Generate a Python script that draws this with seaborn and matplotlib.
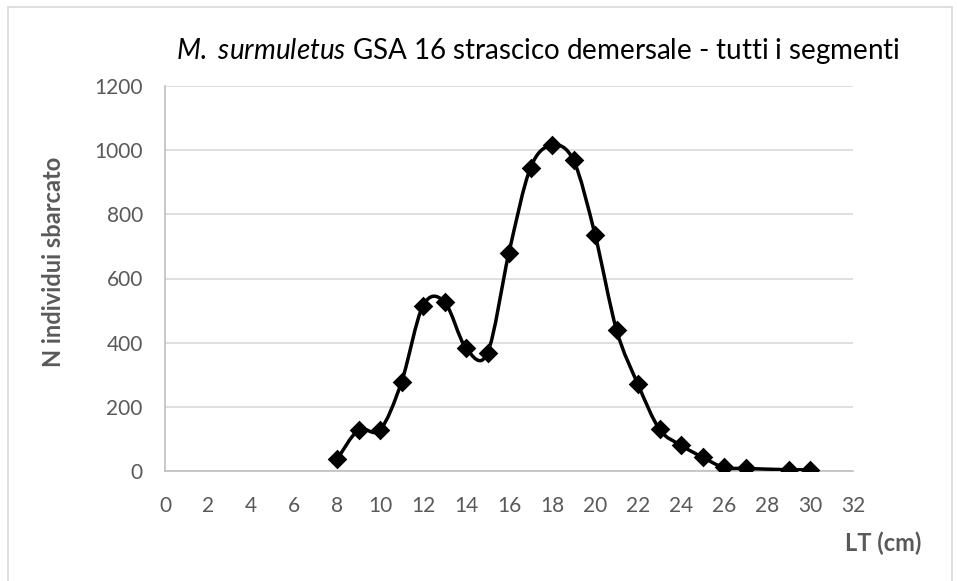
import matplotlib
matplotlib.use("Agg")
import matplotlib.pyplot as plt
from matplotlib.path import Path
from matplotlib.patches import PathPatch, Rectangle
import seaborn as sns
import numpy as np
import pandas as pd

# Length classes (cm) and number of landed individuals
lt_cm = [8, 9, 10, 11, 12, 13, 14, 15, 16, 17, 18, 19, 20, 21, 22, 23, 24, 25, 26, 27, 29, 30]
n_individui = [36, 128, 128, 277, 515, 527, 383, 368, 681, 945, 1015, 968, 737, 440, 270, 130, 80, 43, 11, 8, 4, 4]

x_ticks = list(range(0, 33, 2))
y_ticks = list(range(0, 1201, 200))

title = r"$\mathit{M.}$ $\mathit{surmuletus}$ GSA 16 strascico demersale - tutti i segmenti"
x_label = "LT (cm)"
y_label = "N individui sbarcato"

df = pd.DataFrame({"lt": lt_cm, "n": n_individui})

sns.set_theme(style="white")
plt.rcParams["font.family"] = ["Lato", "DejaVu Sans"]
plt.rcParams["mathtext.fontset"] = "custom"
plt.rcParams["mathtext.rm"] = "Lato"
plt.rcParams["mathtext.it"] = "Lato:italic"

text_col = "#595959"

fig = plt.figure(figsize=(9.57, 5.81), dpi=100)
W, H = 957, 581
ax = fig.add_axes([165 / W, 1 - 471 / H, (853 - 165) / W, (471 - 86) / H])

# outer chart border
fig.patches.append(Rectangle((8 / W, -0.01), (952 - 8) / W, 1 - 7 / H + 0.01,
                             transform=fig.transFigure, fill=False,
                             edgecolor="#d9d9d9", linewidth=1.2))

# smoothed line (Excel style Bezier through the points)
pts = np.column_stack([df["lt"].to_numpy(float), df["n"].to_numpy(float)])
verts = [tuple(pts[0])]
codes = [Path.MOVETO]
for i in range(len(pts) - 1):
    p0 = pts[i - 1] if i > 0 else pts[i]
    p1 = pts[i]
    p2 = pts[i + 1]
    p3 = pts[i + 2] if i + 2 < len(pts) else pts[i + 1]
    c1 = p1 + (p2 - p0) / 6
    c2 = p2 - (p3 - p1) / 6
    verts += [tuple(c1), tuple(c2), tuple(p2)]
    codes += [Path.CURVE4] * 3
ax.add_patch(PathPatch(Path(verts, codes), facecolor="none", edgecolor="black",
                       linewidth=2.5, zorder=3))

sns.scatterplot(data=df, x="lt", y="n", marker="D", s=100, color="black",
                edgecolor="black", linewidth=0, ax=ax, zorder=4)

ax.set_xlim(0, 32)
ax.set_ylim(0, 1200)
ax.set_xticks(x_ticks)
ax.set_yticks(y_ticks)
ax.set_xlabel("")
ax.set_ylabel("")
ax.grid(axis="y", color="#d9d9d9", linewidth=1.2)
ax.set_axisbelow(True)
for side in ["top", "right"]:
    ax.spines[side].set_visible(False)
for side in ["left", "bottom"]:
    ax.spines[side].set_color("#bfbfbf")
    ax.spines[side].set_linewidth(1.2)
ax.tick_params(axis="both", length=0, labelsize=15, labelcolor=text_col)
ax.tick_params(axis="y", pad=16)
ax.tick_params(axis="x", pad=18)

fig.text(538 / W, 1 - 51 / H, title, ha="center", va="center", fontsize=20, color="black")
fig.text(54 / W, 1 - 262 / H, y_label, rotation=90, ha="center", va="center",
         fontsize=17, fontweight="bold", color=text_col)
fig.text(883 / W, 1 - 543 / H, x_label, ha="center", va="center",
         fontsize=17, fontweight="bold", color=text_col)

fig.savefig("out.png", dpi=100)
